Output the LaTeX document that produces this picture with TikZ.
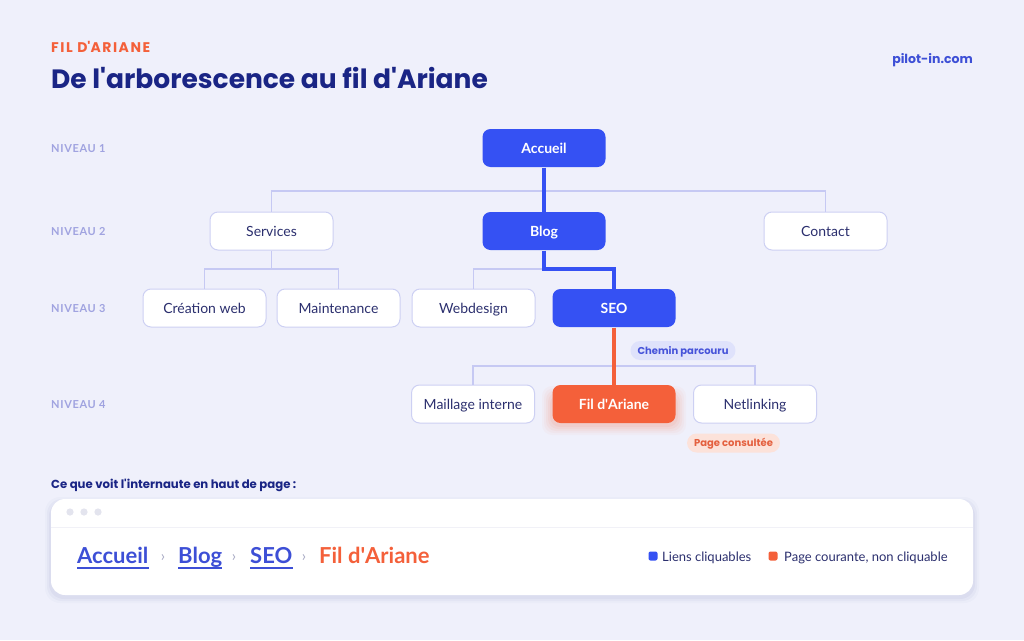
\documentclass[tikz,border=0pt]{standalone}
\usepackage{fontspec}
\setmainfont{Lato}
\newfontfamily\headfont{Poppins}
\definecolor{bg}{HTML}{EFF0FB}
\definecolor{mainblue}{HTML}{3551F3}
\definecolor{navy}{HTML}{1A2585}
\definecolor{nodetext}{HTML}{2B2F6E}
\definecolor{bordercol}{HTML}{CDD0F3}
\definecolor{linecol}{HTML}{C6C9F3}
\definecolor{orange}{HTML}{F4603A}
\definecolor{niveau}{HTML}{A0A3E0}
\definecolor{pillblue}{HTML}{DFE2FB}
\definecolor{pillbluetext}{HTML}{4653D9}
\definecolor{pillorange}{HTML}{FCE2DA}
\definecolor{pillorangetext}{HTML}{E4603F}
\definecolor{dotgray}{HTML}{E3E4EE}
\definecolor{chevron}{HTML}{A7A9C4}
\definecolor{linkblue}{HTML}{3D4FD6}
\newcommand{\apo}{\textquotesingle}
\begin{document}
\begin{tikzpicture}[x=1pt,y=-1pt,
  box/.style={draw=bordercol, line width=1pt, fill=white, rounded corners=8pt,
    minimum width=123pt, minimum height=38pt, text=nodetext, inner sep=0pt,
    text height=10pt, text depth=0pt,
    font=\fontsize{14}{16}\selectfont},
  bluebox/.style={box, draw=none, fill=mainblue, text=white,
    font=\fontsize{14}{16}\selectfont\bfseries},
  orangebox/.style={box, draw=none, fill=orange, text=white,
    font=\fontsize{14}{16}\selectfont\bfseries},
  tree/.style={draw=linecol, line width=1.5pt},
  bluepath/.style={draw=mainblue, line width=4pt, line join=miter},
  orangepath/.style={draw=orange, line width=3.5pt},
  level/.style={anchor=base west, inner sep=0pt, text=niveau,
    font=\fontsize{11}{13}\selectfont\bfseries\addfontfeature{LetterSpace=6}},
  pill/.style={rounded corners=9.5pt, minimum height=19pt, inner xsep=7pt, inner ysep=0pt,
    text height=7pt, text depth=0pt,
    font=\headfont\fontsize{10}{12}\selectfont\bfseries},
  crumb/.style={anchor=base west, inner sep=0pt, font=\fontsize{22}{24}\selectfont\bfseries},
  sep/.style={anchor=base, inner sep=0pt, text=chevron, font=\fontsize{15}{18}\selectfont},
  legend/.style={anchor=base west, inner sep=0pt, text=nodetext, font=\fontsize{13}{15}\selectfont},
  dot/.style={fill=dotgray}
]
\useasboundingbox (0,0) rectangle (1024,640);
\fill[bg] (0,0) rectangle (1024,640);

% header
\node[anchor=base west, inner sep=0pt, text=orange,
  font=\headfont\fontsize{14}{16}\selectfont\bfseries\addfontfeature{LetterSpace=11}] (kicker) at (51,52) {FIL D\apo ARIANE};
\node[anchor=base west, inner sep=0pt, text=navy,
  font=\headfont\fontsize{26.5}{30}\selectfont\bfseries] (title) at (51,88) {De l\apo arborescence au fil d\apo Ariane};
\node[anchor=base east, inner sep=0pt, text=linkblue,
  font=\headfont\fontsize{12.5}{16}\selectfont\bfseries] (brand) at (973,63) {pilot-in.com};

% level labels
\node[level] (n1) at (51,152) {NIVEAU 1};
\node[level] (n2) at (51,235) {NIVEAU 2};
\node[level] (n3) at (51,312) {NIVEAU 3};
\node[level] (n4) at (51,408) {NIVEAU 4};

% coordinates for connectors
\coordinate (bus1) at (544,191);
\coordinate (s2) at (271.5,269);
\coordinate (b2) at (544,269);
\coordinate (b3) at (614,269);
\coordinate (s4) at (614,366);

% shadow for Fil d'Ariane
\foreach \i/\o in {10/0.03,8/0.04,6/0.05,4/0.06,2/0.07} {
  \fill[orange, opacity=\o, rounded corners=10pt] (552-\i,392-\i+4) rectangle (676+\i,423+\i+2);
}

% nodes
\node[bluebox] (accueil) at (544,148) {Accueil};
\node[box] (services) at (271.5,231) {Services};
\node[bluebox] (blog) at (544,231) {Blog};
\node[box] (contact) at (825.5,231) {Contact};
\node[box] (creation) at (204.5,308) {Création web};
\node[box] (maintenance) at (338.5,308) {Maintenance};
\node[box] (webdesign) at (473.5,308) {Webdesign};
\node[bluebox] (seo) at (614,308) {SEO};
\node[box] (maillage) at (473,404) {Maillage interne};
\node[orangebox] (fil) at (614,404) {Fil d\apo Ariane};
\node[box] (netlinking) at (755,404) {Netlinking};

% connectors
\draw[tree] (services.north) |- (bus1) -| (contact.north);
\draw[bluepath] (accueil.south) -- (blog.north);
\draw[tree] (services.south) -- (s2);
\draw[tree] (creation.north) |- (s2) -| (maintenance.north);
\draw[tree] (webdesign.north) |- (b2);
\draw[bluepath] (blog.south) -- (b2) -- (b3) -- (seo.north);
\draw[tree] (maillage.north) |- (s4) -| (netlinking.north);
\draw[orangepath] (seo.south) -- (fil.north);

% pills
\node[pill, fill=pillblue, text=pillbluetext] (chemin) at (683,350.5) {Chemin parcouru};
\node[pill, fill=pillorange, text=pillorangetext] (consultee) at (733.5,443) {Page consultée};

% bottom section
\node[anchor=base west, inner sep=0pt, text=navy,
  font=\headfont\fontsize{11.7}{14}\selectfont\bfseries] (cq) at (51,488) {Ce que voit l\apo internaute en haut de page :};

\foreach \i/\o in {6/0.02,4/0.03,2/0.04} {
  \fill[navy, opacity=\o, rounded corners=15pt] (51-\i,501-\i+2) rectangle (973+\i,595+\i+2);
}
\fill[white, rounded corners=14pt] (51,499) rectangle (973,595);
\draw[dotgray!50, line width=0.8pt] (51,527) -- (973,527);
\fill[dot] (70,512) circle (3.6);
\fill[dot] (84,512) circle (3.6);
\fill[dot] (98,512) circle (3.6);

\node[crumb, text=linkblue] (ca) at (77,563) {Accueil};
\node[sep] (sp1) at (163,561) {›};
\node[crumb, text=linkblue] (cb) at (178,563) {Blog};
\node[sep] (sp2) at (234,561) {›};
\node[crumb, text=linkblue] (cs) at (250,563) {SEO};
\node[sep] (sp3) at (304,561) {›};
\node[crumb, text=orange] (cf) at (319,563) {Fil d\apo Ariane};
\foreach \n in {ca,cb,cs} {
  \draw[linkblue, line width=1.6pt] ([yshift=-5pt]\n.base west) -- ([yshift=-5pt]\n.base east);
}

\fill[mainblue, rounded corners=2pt] (648.5,551.5) rectangle (657.5,560.5);
\node[legend] (l1) at (662,561) {Liens cliquables};
\fill[orange, rounded corners=2pt] (768.5,551.5) rectangle (777.5,560.5);
\node[legend] (l2) at (784,561) {Page courante, non cliquable};
\end{tikzpicture}
\end{document}
